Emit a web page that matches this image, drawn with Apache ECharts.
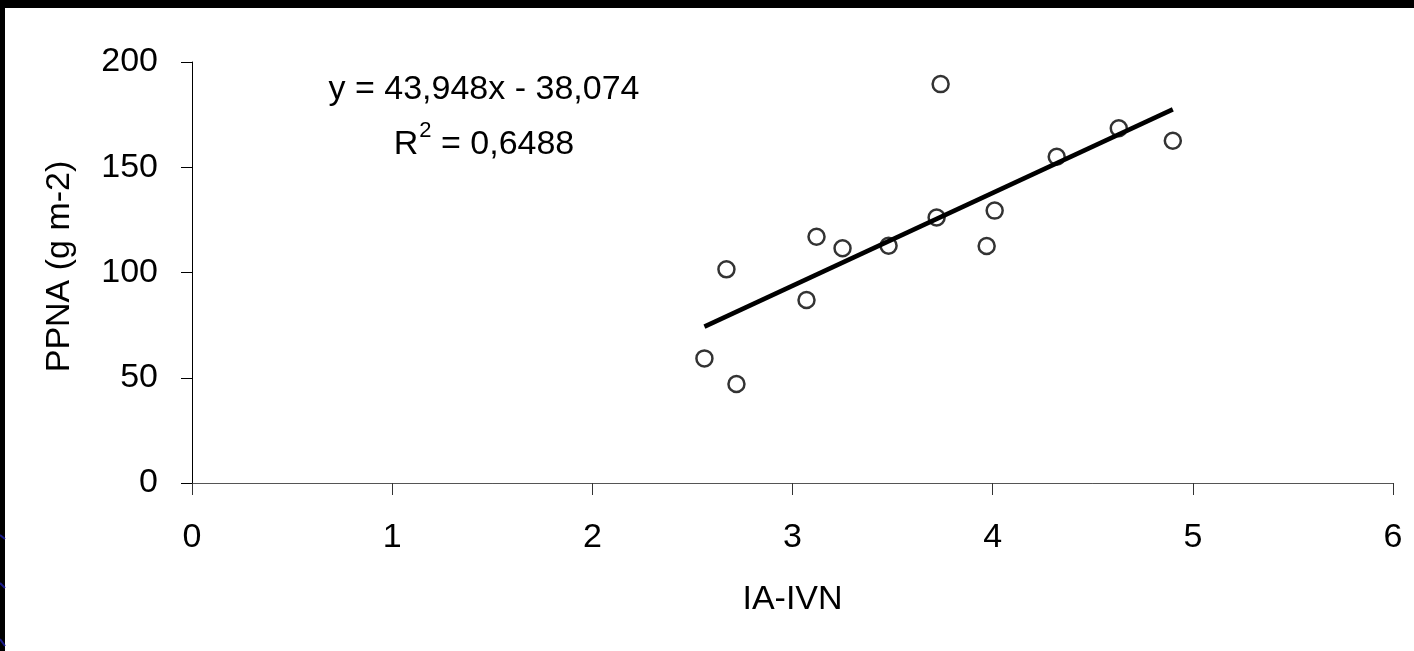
<!DOCTYPE html>
<html>
<head>
<meta charset="utf-8">
<title>PPNA vs IA-IVN</title>
<script src="https://cdn.jsdelivr.net/npm/echarts@6/dist/echarts.min.js"></script>
<style>
  html, body { margin: 0; padding: 0; background: #fff; overflow: hidden; }
  #main { width: 1414px; height: 651px; }
</style>
</head>
<body>
<div id="main"></div>
<script>
// datos
var iaIvn = [2.56, 2.67, 2.72, 3.07, 3.12, 3.25, 3.48, 3.72, 3.74, 3.97, 4.01, 4.32, 4.63, 4.90];
var ppna = [59.2, 101.5, 47.0, 86.9, 117.0, 111.5, 112.7, 126.1, 189.5, 112.6, 129.4, 155.0, 168.5, 162.6];
// extremos de la recta de tendencia
var trendX = [2.56, 4.90];
var trendY = [74.3, 177.5];
var xTicks = [0, 1, 2, 3, 4, 5, 6];
var yTicks = [0, 50, 100, 150, 200];
var eqText = 'y = 43,948x - 38,074';
var r2Text = ' = 0,6488';

var font = 'Liberation Sans, Arial, sans-serif';
var fs = 34;

var points = iaIvn.map(function (x, i) { return [x, ppna[i]]; });
var trend = trendX.map(function (x, i) { return [x, trendY[i]]; });

var myChart = echarts.init(document.getElementById('main'));

var option = {
  backgroundColor: '#fff',
  animation: false,
  grid: { left: 192, top: 62, right: 21, bottom: 168 },
  xAxis: {
    type: 'value',
    min: xTicks[0],
    max: xTicks[xTicks.length - 1],
    interval: 1,
    name: 'IA-IVN',
    nameLocation: 'middle',
    nameGap: 100,
    nameTextStyle: { color: '#000', fontSize: fs, fontFamily: font },
    axisLine: { show: true, lineStyle: { color: '#555', width: 1 } },
    axisTick: { show: true, inside: false, length: 12, lineStyle: { color: '#333', width: 1 } },
    axisLabel: { color: '#000', fontSize: fs, fontFamily: font, margin: 38 },
    splitLine: { show: false }
  },
  yAxis: {
    type: 'value',
    min: yTicks[0],
    max: yTicks[yTicks.length - 1],
    interval: 50,
    name: 'PPNA (g m-2)',
    nameLocation: 'middle',
    nameGap: 115,
    nameRotate: 90,
    nameTextStyle: { color: '#000', fontSize: fs, fontFamily: font, padding: [0, 0, 0, 12] },
    axisLine: { show: true, lineStyle: { color: '#000', width: 1 } },
    axisTick: { show: true, inside: false, length: 11, lineStyle: { color: '#000', width: 1 } },
    axisLabel: { color: '#000', fontSize: fs, fontFamily: font, margin: 34 },
    splitLine: { show: false }
  },
  series: [
    {
      name: 'PPNA',
      type: 'scatter',
      data: points,
      symbol: 'circle',
      symbolSize: 16,
      itemStyle: { color: '#fff', borderColor: '#000', borderWidth: 2.5 },
      z: 2
    },
    {
      name: 'Lineal',
      type: 'line',
      data: trend,
      symbol: 'none',
      lineStyle: { color: '#000', width: 4.5 },
      z: 3
    }
  ],
  graphic: [
    // marco negro de la diapositiva
    { type: 'rect', shape: { x: 0, y: 0, width: 1414, height: 8 }, style: { fill: '#000' } },
    { type: 'rect', shape: { x: 0, y: 0, width: 5, height: 651 }, style: { fill: '#000' } },
    { type: 'line', shape: { x1: 0, y1: 535, x2: 5, y2: 539 }, style: { stroke: '#1c1c8c', lineWidth: 2 } },
    { type: 'line', shape: { x1: 0, y1: 583, x2: 5, y2: 588 }, style: { stroke: '#1c1c8c', lineWidth: 2 } },
    { type: 'line', shape: { x1: 0, y1: 639, x2: 5, y2: 646 }, style: { stroke: '#1c1c8c', lineWidth: 2 } },
    // ecuacion de la recta
    {
      type: 'text',
      x: 484, y: 90,
      style: {
        text: eqText,
        fill: '#000',
        font: fs + 'px ' + font,
        textAlign: 'center',
        textVerticalAlign: 'middle'
      }
    },
    {
      type: 'text',
      x: 484, y: 141,
      style: {
        text: '{r|R}{sup|2}{r|' + r2Text + '}',
        textAlign: 'center',
        textVerticalAlign: 'middle',
        rich: {
          r: { fontSize: fs, fontFamily: font, color: '#000', lineHeight: 42, verticalAlign: 'bottom' },
          sup: { fontSize: 22, fontFamily: font, color: '#000', lineHeight: 42, verticalAlign: 'top', padding: [0, 0, 0, 1] }
        }
      }
    }
  ]
};

myChart.setOption(option);
</script>
</body>
</html>
